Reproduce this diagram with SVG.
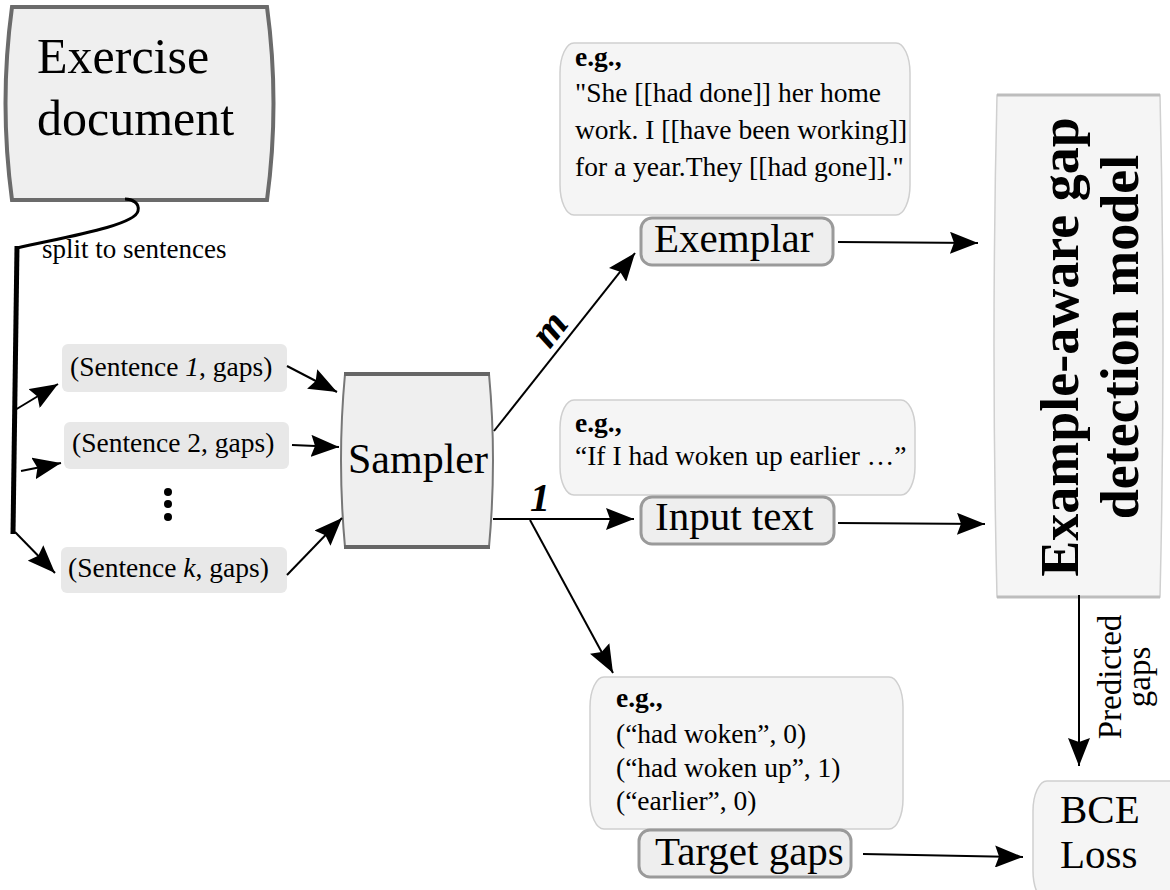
<svg xmlns="http://www.w3.org/2000/svg" width="1170" height="890" viewBox="0 0 1170 890" font-family="'Liberation Serif', 'DejaVu Serif', serif">
<style>
text{font-family:'Liberation Serif','DejaVu Serif',serif;fill:#000}
.big{font-size:50px}
.lbl{font-size:41px}
.t{font-size:27.5px}
.b{font-weight:bold}
.sent{fill:#e8e8e8}
.pill{fill:#eeeeee;stroke:#9a9a9a;stroke-width:3}
.eg{fill:#f5f5f5;stroke:#cfcfcf;stroke-width:1.5}
.heavy{fill:#efefef;stroke:#6b6b6b;stroke-width:4}
.ln{fill:none;stroke:#000;stroke-width:2}
</style>
<defs>
<marker id="ah" markerUnits="userSpaceOnUse" viewBox="0 0 28 22" markerWidth="28" markerHeight="22" refX="28" refY="11" orient="auto">
<path d="M0,0 L28,11 L0,22 L4,11 Z" fill="#000"/>
</marker>
</defs>

<g id="exercise">
<path class="heavy" d="M12,7 L267,7 Q280,103 267,200 L12,200 Q-1,103 12,7 Z"/>
<text class="big" x="37" y="73">Exercise</text>
<text class="big" x="37" y="135">document</text>
</g>

<g id="sentence1">
<rect class="sent" x="62" y="344" width="225" height="48" rx="6"/>
<text class="t" x="70" y="376">(Sentence <tspan font-style="italic">1</tspan>, gaps)</text>
</g>
<g id="sentence2">
<rect class="sent" x="64" y="422" width="225" height="47" rx="6"/>
<text class="t" x="72" y="452">(Sentence 2, gaps)</text>
</g>
<g id="ellipsis">
<circle cx="168" cy="492" r="4"/>
<circle cx="168" cy="504" r="4"/>
<circle cx="168" cy="517" r="4"/>
</g>
<g id="sentencek">
<rect class="sent" x="61" y="547" width="226" height="46" rx="6"/>
<text class="t" x="68" y="577">(Sentence <tspan font-style="italic">k</tspan>, gaps)</text>
</g>

<g id="sampler">
<path d="M345,374 L489,374 Q497,460 489,547 L345,547 Q337,460 345,374 Z" fill="#efefef" stroke="#777" stroke-width="2"/>
<line x1="344" y1="374" x2="490" y2="374" stroke="#666" stroke-width="4"/>
<line x1="344" y1="547" x2="490" y2="547" stroke="#666" stroke-width="4"/>
<text x="348" y="473" font-size="42">Sampler</text>
</g>

<g id="exemplar-eg">
<rect class="eg" x="560" y="43" width="350" height="172" rx="14" ry="30"/>
<text class="t b" x="575" y="66">e.g.,</text>
<text class="t" x="575" y="102">"She [[had done]] her home</text>
<text class="t" x="575" y="139">work. I [[have been working]]</text>
<text class="t" x="575" y="176">for a year.They [[had gone]]."</text>
</g>
<g id="exemplar">
<rect class="pill" x="641" y="218" width="192" height="47" rx="11"/>
<text class="lbl" x="654" y="252">Exemplar</text>
</g>

<g id="input-eg">
<rect class="eg" x="560" y="400" width="355" height="95" rx="14" ry="28"/>
<text class="t b" x="575" y="432">e.g.,</text>
<text class="t" x="575" y="465">“If I had woken up earlier …”</text>
</g>
<g id="input">
<rect class="pill" x="641" y="497" width="193" height="47" rx="11"/>
<text class="lbl" x="655" y="530">Input text</text>
</g>

<g id="target-eg">
<rect class="eg" x="590" y="677" width="313" height="152" rx="14" ry="30"/>
<text class="t b" x="616" y="707">e.g.,</text>
<text class="t" x="616" y="743">(“had woken”, 0)</text>
<text class="t" x="616" y="777">(“had woken up”, 1)</text>
<text class="t" x="616" y="810">(“earlier”, 0)</text>
</g>
<g id="target">
<rect class="pill" x="639" y="830" width="212" height="47" rx="11"/>
<text class="lbl" x="655" y="865">Target gaps</text>
</g>

<g id="model">
<path d="M997,95 L1160,95 Q1166,346 1160,597 L997,597 Q991,346 997,95 Z" fill="#f5f5f5" stroke="#d0d0d0" stroke-width="1.5"/>
<line x1="997" y1="95" x2="1160" y2="95" stroke="#bdbdbd" stroke-width="3"/>
<line x1="997" y1="597" x2="1160" y2="597" stroke="#bdbdbd" stroke-width="3"/>
<text class="b" font-size="54" text-anchor="middle" transform="translate(1078,347) rotate(-90)">Example-aware gap</text>
<text class="b" font-size="54" text-anchor="middle" transform="translate(1138,337) rotate(-90)">detection model</text>
</g>

<g id="bce">
<rect class="eg" x="1033" y="781" width="160" height="120" rx="14" ry="30"/>
<text class="lbl" x="1060" y="823">BCE</text>
<text class="lbl" x="1060" y="868">Loss</text>
</g>

<g id="connectors">
<path d="M17,248 C60,238 135,226 138,211 C140,203 132,199 125,199" fill="none" stroke="#000" stroke-width="3"/>
<line x1="17" y1="246" x2="13" y2="534" stroke="#000" stroke-width="5"/>
<text x="42" y="258" font-size="27">split to sentences</text>
<line class="ln" x1="15" y1="410" x2="58" y2="384" marker-end="url(#ah)"/>
<line class="ln" x1="21" y1="471" x2="61" y2="463" marker-end="url(#ah)"/>
<line class="ln" x1="15" y1="532" x2="55" y2="573" marker-end="url(#ah)"/>
<line class="ln" x1="287" y1="366" x2="337" y2="392" marker-end="url(#ah)"/>
<line class="ln" x1="292" y1="445" x2="339" y2="447" marker-end="url(#ah)"/>
<line class="ln" x1="287" y1="575" x2="342" y2="518" marker-end="url(#ah)"/>
<line class="ln" x1="494" y1="431" x2="635" y2="253" marker-end="url(#ah)"/>
<text class="b" font-size="42" font-style="italic" text-anchor="middle" transform="translate(552,331) rotate(-52)" y="10">m</text>
<line class="ln" x1="493" y1="519" x2="634" y2="519" marker-end="url(#ah)"/>
<text class="b" font-size="40" font-style="italic" x="530" y="511">1</text>
<line class="ln" x1="530" y1="520" x2="613" y2="673" marker-end="url(#ah)"/>
<line class="ln" x1="838" y1="242" x2="978" y2="243" marker-end="url(#ah)"/>
<line class="ln" x1="838" y1="523" x2="985" y2="524" marker-end="url(#ah)"/>
<line class="ln" x1="1079" y1="595" x2="1079" y2="766" marker-end="url(#ah)"/>
<text font-size="33" text-anchor="middle" transform="translate(1121,677) rotate(-90)">Predicted</text>
<text font-size="33" text-anchor="middle" transform="translate(1150,677) rotate(-90)">gaps</text>
<line class="ln" x1="863" y1="854" x2="1023" y2="857" marker-end="url(#ah)"/>
</g>
</svg>
